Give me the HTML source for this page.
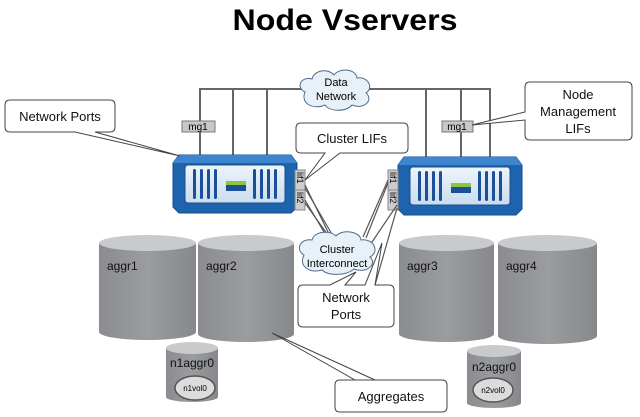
<!DOCTYPE html>
<html><head><meta charset="utf-8"><style>
html,body{margin:0;padding:0;background:#fff;overflow:hidden;}
svg{display:block;font-family:"Liberation Sans",Arial,sans-serif;}
</style></head><body>
<svg width="640" height="417" viewBox="0 0 640 417" xmlns="http://www.w3.org/2000/svg">
<defs>
<linearGradient id="cyl" x1="0" x2="1" y1="0" y2="0">
<stop offset="0" stop-color="#8a8c8f"/><stop offset="0.5" stop-color="#9a9c9f"/><stop offset="1" stop-color="#86888b"/>
</linearGradient>
<linearGradient id="panel" x1="0" x2="0" y1="0" y2="1">
<stop offset="0" stop-color="#eef5fb"/><stop offset="1" stop-color="#c9dcee"/>
</linearGradient>
<g id="node">
<path d="M0,8 L6,0 L118,0 L124,8 L124,52 L118,58 L6,58 L0,52 Z" fill="#1e63ad" stroke="#154c8a" stroke-width="1"/>
<path d="M6,0 L118,0 L124,8 L0,8 Z" fill="#3d86cf"/>
<rect x="12" y="10" width="100" height="38" rx="3" fill="url(#panel)" stroke="#1a4f8c"/>
<g fill="#1c4f98">
<rect x="20" y="14" width="3" height="30" rx="1.5"/><rect x="27" y="14" width="3" height="30" rx="1.5"/><rect x="34" y="14" width="3" height="30" rx="1.5"/><rect x="41" y="14" width="3" height="30" rx="1.5"/>
<rect x="80" y="14" width="3" height="30" rx="1.5"/><rect x="87" y="14" width="3" height="30" rx="1.5"/><rect x="94" y="14" width="3" height="30" rx="1.5"/><rect x="101" y="14" width="3" height="30" rx="1.5"/>
<rect x="53" y="30" width="20" height="6"/>
</g>
<rect x="53" y="26" width="20" height="4" fill="#8cc63f"/>
</g>
</defs>

<text x="345" y="30" font-size="30" font-weight="bold" text-anchor="middle" textLength="225" lengthAdjust="spacingAndGlyphs">Node Vservers</text>

<g stroke="#666" stroke-width="2" fill="none">
<polyline points="200,157 200,89 490,89 490,157"/>
<line x1="233" y1="89" x2="233" y2="157"/>
<line x1="267" y1="89" x2="267" y2="157"/>
<line x1="426" y1="89" x2="426" y2="157"/>
<line x1="461" y1="89" x2="461" y2="157"/>
</g>

<path d="M305,92 C296,88 300,76 312,79 C314,70 328,68 334,75 C340,67 356,69 357,78 C368,76 374,88 366,93 C374,100 364,110 352,105 C346,112 330,112 325,105 C314,110 300,104 305,92 Z" fill="#e9f1f8" stroke="#4d6d8c"/>
<text x="336" y="86" font-size="11" text-anchor="middle">Data</text>
<text x="336" y="100" font-size="11" text-anchor="middle">Network</text>

<rect x="182" y="121" width="33" height="11" fill="#c8c8c8" stroke="#777"/>
<text x="198" y="130" font-size="10" text-anchor="middle">mg1</text>
<rect x="442" y="121" width="31" height="11" fill="#c8c8c8" stroke="#777"/>
<text x="457" y="130" font-size="10" text-anchor="middle">mg1</text>

<use href="#node" x="173" y="155"/>
<use href="#node" x="398" y="157"/>

<g font-size="9">
<rect x="295" y="170" width="10" height="20" fill="#ccc" stroke="#888"/>
<rect x="295" y="190" width="10" height="20" fill="#ccc" stroke="#888"/>
<text transform="translate(297,172) rotate(90)">lif1</text>
<text transform="translate(297,192) rotate(90)">lif2</text>
<rect x="388" y="170" width="10" height="20" fill="#ccc" stroke="#888"/>
<rect x="388" y="190" width="10" height="20" fill="#ccc" stroke="#888"/>
<text transform="translate(390,172) rotate(90)">lif1</text>
<text transform="translate(390,192) rotate(90)">lif2</text>
</g>

<g stroke="#555" stroke-width="1.2">
<line x1="305" y1="185" x2="330" y2="236"/><line x1="305" y1="188" x2="333" y2="236"/>
<line x1="305" y1="200" x2="327" y2="237"/><line x1="305" y1="203" x2="330" y2="238"/>
<line x1="388" y1="180" x2="363" y2="237"/><line x1="388" y1="183" x2="366" y2="238"/>
<line x1="397" y1="205" x2="370" y2="245"/><line x1="397" y1="208" x2="375" y2="285"/>
</g>

<path d="M304,255 C295,250 300,238 312,240 C314,231 330,230 336,236 C342,229 360,231 361,240 C374,238 380,252 370,257 C378,264 366,274 354,269 C346,276 328,276 322,270 C310,274 298,266 304,255 Z" fill="#e9f1f8" stroke="#4d6d8c"/>
<text x="337" y="253" font-size="11" text-anchor="middle">Cluster</text>
<text x="337" y="267" font-size="11" text-anchor="middle">Interconnect</text>

<g>
<path d="M99,243 L99,332 A48.5,8 0 0 0 196,332 L196,243 Z" fill="url(#cyl)"/>
<ellipse cx="147.5" cy="243" rx="48.5" ry="8" fill="#c9cacc"/>
<path d="M198,243 L198,334 A48,8 0 0 0 294,334 L294,243 Z" fill="url(#cyl)"/>
<ellipse cx="246" cy="243" rx="48" ry="8" fill="#c9cacc"/>
<path d="M399,243 L399,334 A47.5,8 0 0 0 494,334 L494,243 Z" fill="url(#cyl)"/>
<ellipse cx="446.5" cy="243" rx="47.5" ry="8" fill="#c9cacc"/>
<path d="M498,243 L498,336 A49.5,8 0 0 0 597,336 L597,243 Z" fill="url(#cyl)"/>
<ellipse cx="547.5" cy="243" rx="49.5" ry="8" fill="#c9cacc"/>
<path d="M166,348 L166,397 A26,5 0 0 0 218,397 L218,348 Z" fill="url(#cyl)"/>
<ellipse cx="192" cy="348" rx="26" ry="6" fill="#c9cacc"/>
<path d="M467,351 L467,403 A27,5 0 0 0 521,403 L521,351 Z" fill="url(#cyl)"/>
<ellipse cx="494" cy="351" rx="27" ry="6" fill="#c9cacc"/>
</g>
<g font-size="12" fill="#111">
<text x="107" y="270">aggr1</text>
<text x="206" y="270">aggr2</text>
<text x="407" y="270">aggr3</text>
<text x="506" y="270">aggr4</text>
<text x="192" y="367" text-anchor="middle">n1aggr0</text>
<text x="494" y="371" text-anchor="middle">n2aggr0</text>
</g>
<ellipse cx="195" cy="388" rx="20" ry="12" fill="#dcdcdc" stroke="#555" stroke-width="1.5"/>
<text x="195" y="391" font-size="8" text-anchor="middle">n1vol0</text>
<ellipse cx="493" cy="390" rx="20" ry="12" fill="#dcdcdc" stroke="#555" stroke-width="1.5"/>
<text x="493" y="393" font-size="8" text-anchor="middle">n2vol0</text>

<g fill="#fff" stroke="#444" stroke-width="1">
<path d="M10,100 L110,100 Q115,100 115,105 L115,127 Q115,132 110,132 L95,132 L180,156 L75,132 L10,132 Q5,132 5,127 L5,105 Q5,100 10,100 Z"/>
<path d="M301,123 L403,123 Q408,123 408,128 L408,148 Q408,153 403,153 L340,153 L305,180 L325,153 L301,153 Q296,153 296,148 L296,128 Q296,123 301,123 Z"/>
<path d="M530,82 L627,82 Q632,82 632,87 L632,135 Q632,140 627,140 L530,140 Q525,140 525,135 L525,120 L472,125 L525,112 L525,87 Q525,82 530,82 Z"/>
<path d="M303,285 L330,285 L356,272 L345,285 L365,285 L382,243 L375,285 L389,285 Q394,285 394,290 L394,322 Q394,327 389,327 L303,327 Q298,327 298,322 L298,290 Q298,285 303,285 Z"/>
<path d="M340,380 L375,380 L272,333 L355,380 L442,380 Q447,380 447,385 L447,407 Q447,412 442,412 L340,412 Q335,412 335,407 L335,385 Q335,380 340,380 Z"/>
</g>
<g font-size="13" fill="#111" text-anchor="middle">
<text x="60" y="121">Network Ports</text>
<text x="352" y="143">Cluster LIFs</text>
<text x="578" y="99">Node</text>
<text x="578" y="116">Management</text>
<text x="578" y="133">LIFs</text>
<text x="346" y="302">Network</text>
<text x="346" y="319">Ports</text>
<text x="391" y="401">Aggregates</text>
</g>
</svg>
</body></html>
